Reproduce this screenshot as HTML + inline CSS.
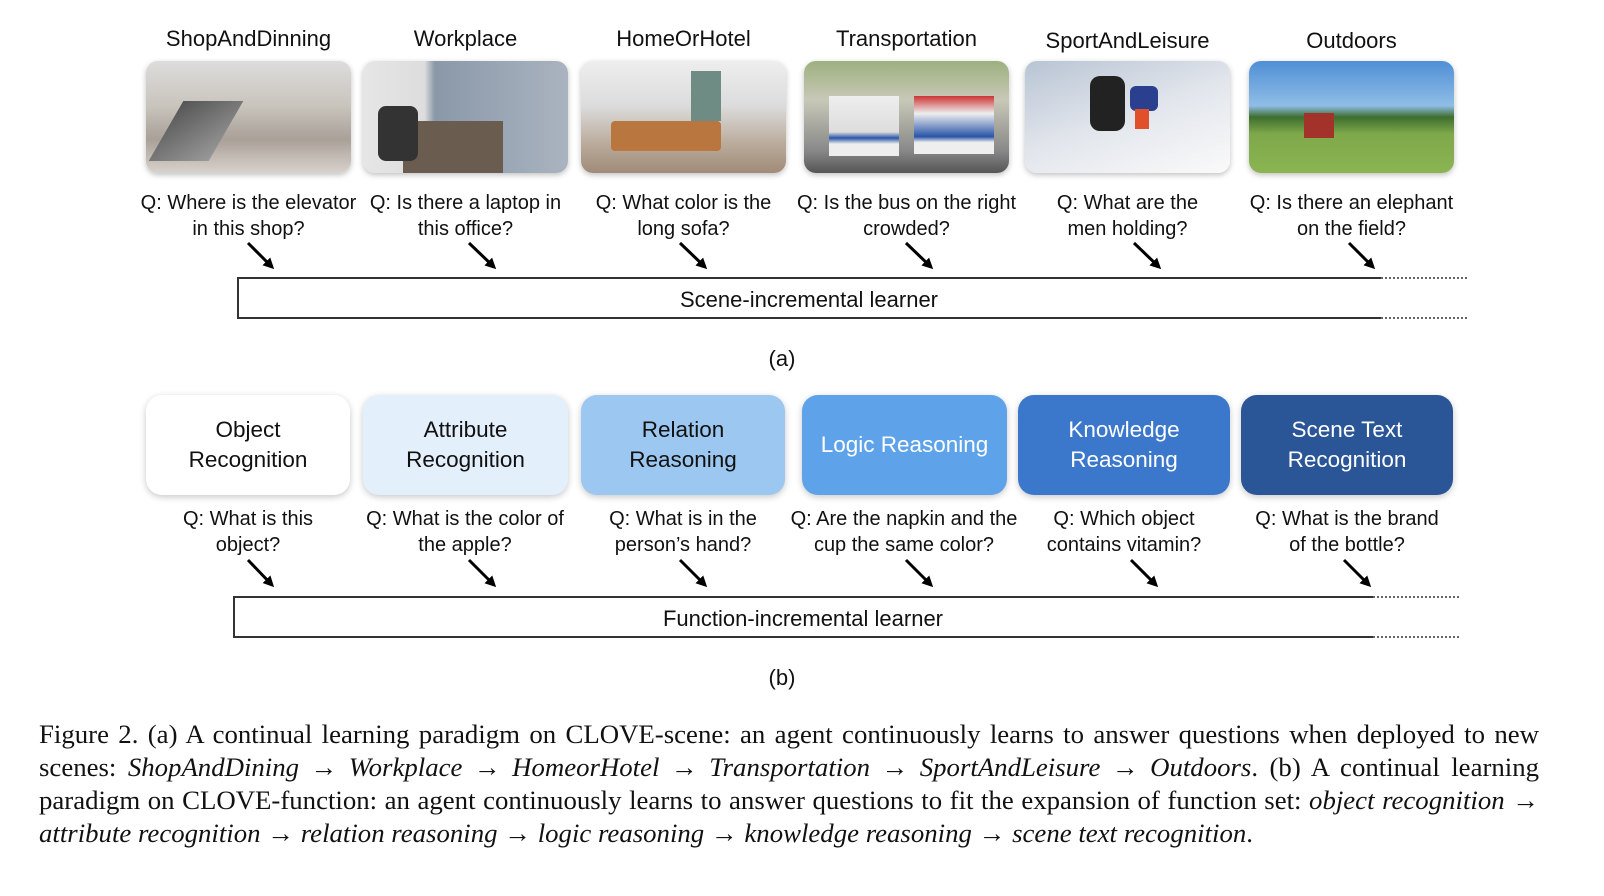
<!DOCTYPE html>
<html><head><meta charset="utf-8"><style>
*{margin:0;padding:0;box-sizing:border-box}
body{width:1604px;height:896px;background:#fff;position:relative;overflow:hidden;font-family:"Liberation Sans",sans-serif;color:#111}
.t{position:absolute;text-align:center;font-size:22px;white-space:nowrap}
.q{position:absolute;text-align:center;font-size:20px;line-height:26px;white-space:nowrap}
.img{position:absolute;top:61px;width:205px;height:112px;border-radius:12px;box-shadow:0 2px 6px rgba(0,0,0,.25);overflow:hidden}
.box{position:absolute;top:395px;height:100px;border-radius:16px;box-shadow:0 2px 7px rgba(0,0,0,.22);display:flex;align-items:center;justify-content:center;text-align:center;font-size:22.5px;line-height:30px}
.lb{position:absolute;border:2px solid #333;border-right:none}
.dot{position:absolute;border-top:2px dotted #666;width:86px}
.cap{position:absolute;left:39px;width:1500px;font-family:"Liberation Serif",serif;font-size:26.8px;text-align:justify;text-align-last:justify;white-space:nowrap}
.cap i{font-style:italic}
</style></head><body>
<div class="t" style="left:146px;width:205px;top:26px">ShopAndDinning</div>
<div class="t" style="left:363px;width:205px;top:26px">Workplace</div>
<div class="t" style="left:581px;width:205px;top:26px">HomeOrHotel</div>
<div class="t" style="left:804px;width:205px;top:26px">Transportation</div>
<div class="t" style="left:1025px;width:205px;top:28px">SportAndLeisure</div>
<div class="t" style="left:1249px;width:205px;top:28px">Outdoors</div>

<div class="img" style="left:146px;background:linear-gradient(180deg,#ddd 0%,#c9c4bc 40%,#a9a098 70%,#d8d2cc 100%)"><div style="position:absolute;left:20px;top:40px;width:60px;height:60px;background:linear-gradient(135deg,#555,#999);transform:skewX(-30deg)"></div></div>
<div class="img" style="left:363px;background:linear-gradient(90deg,#e6e6e6 0%,#ddd 30%,#8a98a8 35%,#aab4c0 100%)"><div style="position:absolute;left:40px;top:60px;width:100px;height:52px;background:#6b5c50"></div><div style="position:absolute;left:15px;top:45px;width:40px;height:55px;background:#333;border-radius:8px"></div></div>
<div class="img" style="left:581px;background:linear-gradient(180deg,#eee 0%,#dcdcdc 40%,#b9aa9a 75%,#a08b78 100%)"><div style="position:absolute;left:30px;top:60px;width:110px;height:30px;background:#b9763f;border-radius:4px"></div><div style="position:absolute;left:110px;top:10px;width:30px;height:50px;background:#6f8c84"></div></div>
<div class="img" style="left:804px;background:linear-gradient(180deg,#9db07e 0%,#c8c8b8 35%,#888 80%,#555 100%)"><div style="position:absolute;left:25px;top:35px;width:70px;height:60px;background:linear-gradient(180deg,#eee,#ddd 60%,#2a55a8 70%,#eee 80%)"></div><div style="position:absolute;left:110px;top:35px;width:80px;height:58px;background:linear-gradient(180deg,#c33 0%,#eee 30%,#2a55a8 70%,#eee 80%)"></div></div>
<div class="img" style="left:1025px;background:linear-gradient(160deg,#b8c4d4 0%,#e2e6ec 50%,#fafafa 100%)"><div style="position:absolute;left:65px;top:15px;width:35px;height:55px;background:#222;border-radius:10px"></div><div style="position:absolute;left:105px;top:25px;width:28px;height:25px;background:#2b3f8f;border-radius:6px"></div><div style="position:absolute;left:110px;top:48px;width:14px;height:20px;background:#e0502a"></div></div>
<div class="img" style="left:1249px;background:linear-gradient(180deg,#4f8fd6 0%,#8fbde6 40%,#3e6e2e 50%,#7ea84a 65%,#8bb552 100%)"><div style="position:absolute;left:55px;top:52px;width:30px;height:25px;background:#a3322a"></div></div>

<div class="q" style="left:96px;width:305px;top:190px">Q: Where is the elevator<br>in this shop?</div>
<div class="q" style="left:313px;width:305px;top:190px">Q: Is there a laptop in<br>this office?</div>
<div class="q" style="left:531px;width:305px;top:190px">Q: What color is the<br>long sofa?</div>
<div class="q" style="left:754px;width:305px;top:190px">Q: Is the bus on the right<br>crowded?</div>
<div class="q" style="left:975px;width:305px;top:190px">Q: What are the<br>men holding?</div>
<div class="q" style="left:1199px;width:305px;top:190px">Q: Is there an elephant<br>on the field?</div>

<div class="lb" style="left:237px;top:277px;width:1144px;height:42px"></div>
<div class="dot" style="left:1381px;top:277px"></div>
<div class="dot" style="left:1381px;top:317px"></div>
<div class="t" style="left:237px;width:1144px;top:287px">Scene-incremental learner</div>
<div class="t" style="left:732px;width:100px;top:346px">(a)</div>

<div class="box" style="left:146px;width:204px;background:#fff;color:#111">Object<br>Recognition</div>
<div class="box" style="left:363px;width:205px;background:#e3effb;color:#111">Attribute<br>Recognition</div>
<div class="box" style="left:581px;width:204px;background:#9cc7f1;color:#111">Relation<br>Reasoning</div>
<div class="box" style="left:802px;width:205px;background:#5ea3ea;color:#fff">Logic Reasoning</div>
<div class="box" style="left:1018px;width:212px;background:#3b78cc;color:#fff">Knowledge<br>Reasoning</div>
<div class="box" style="left:1241px;width:212px;background:#2a5596;color:#fff">Scene Text<br>Recognition</div>

<div class="q" style="left:98px;width:300px;top:506px">Q: What is this<br>object?</div>
<div class="q" style="left:315px;width:300px;top:506px">Q: What is the color of<br>the apple?</div>
<div class="q" style="left:533px;width:300px;top:506px">Q: What is in the<br>person’s hand?</div>
<div class="q" style="left:754px;width:300px;top:506px">Q: Are the napkin and the<br>cup the same color?</div>
<div class="q" style="left:974px;width:300px;top:506px">Q: Which object<br>contains vitamin?</div>
<div class="q" style="left:1197px;width:300px;top:506px">Q: What is the brand<br>of the bottle?</div>

<div class="lb" style="left:233px;top:596px;width:1140px;height:42px"></div>
<div class="dot" style="left:1373px;top:596px"></div>
<div class="dot" style="left:1373px;top:636px"></div>
<div class="t" style="left:233px;width:1140px;top:606px">Function-incremental learner</div>
<div class="t" style="left:732px;width:100px;top:665px">(b)</div>

<svg width="1604" height="896" style="position:absolute;left:0;top:0" xmlns="http://www.w3.org/2000/svg">
<defs><marker id="a" markerWidth="11" markerHeight="11" refX="8" refY="5.5" orient="auto" markerUnits="userSpaceOnUse"><path d="M0,0 L11,5.5 L0,11 Z" fill="#000"/></marker></defs>
<g stroke="#000" stroke-width="3" marker-end="url(#a)">
<line x1="248" y1="243" x2="272" y2="267"/><line x1="469" y1="243" x2="494" y2="267"/><line x1="680" y1="243" x2="705" y2="267"/><line x1="906" y1="243" x2="931" y2="267"/><line x1="1134" y1="243" x2="1159" y2="267"/><line x1="1349" y1="243" x2="1373" y2="267"/>
<line x1="248" y1="560" x2="272" y2="585"/><line x1="469" y1="560" x2="494" y2="585"/><line x1="680" y1="560" x2="705" y2="585"/><line x1="906" y1="560" x2="931" y2="585"/><line x1="1131" y1="560" x2="1156" y2="585"/><line x1="1344" y1="560" x2="1369" y2="585"/>
</g></svg>

<div class="cap" style="top:719px">Figure 2. (a) A continual learning paradigm on CLOVE-scene: an agent continuously learns to answer questions when deployed to new</div>
<div class="cap" style="top:752px">scenes: <i>ShopAndDining</i> → <i>Workplace</i> → <i>HomeorHotel</i> → <i>Transportation</i> → <i>SportAndLeisure</i> → <i>Outdoors</i>. (b) A continual learning</div>
<div class="cap" style="top:785px">paradigm on CLOVE-function: an agent continuously learns to answer questions to fit the expansion of function set: <i>object recognition</i> →</div>
<div class="cap" style="top:818px;text-align-last:left;text-align:left"><i>attribute recognition</i> → <i>relation reasoning</i> → <i>logic reasoning</i> → <i>knowledge reasoning</i> → <i>scene text recognition</i>.</div>
</body></html>
